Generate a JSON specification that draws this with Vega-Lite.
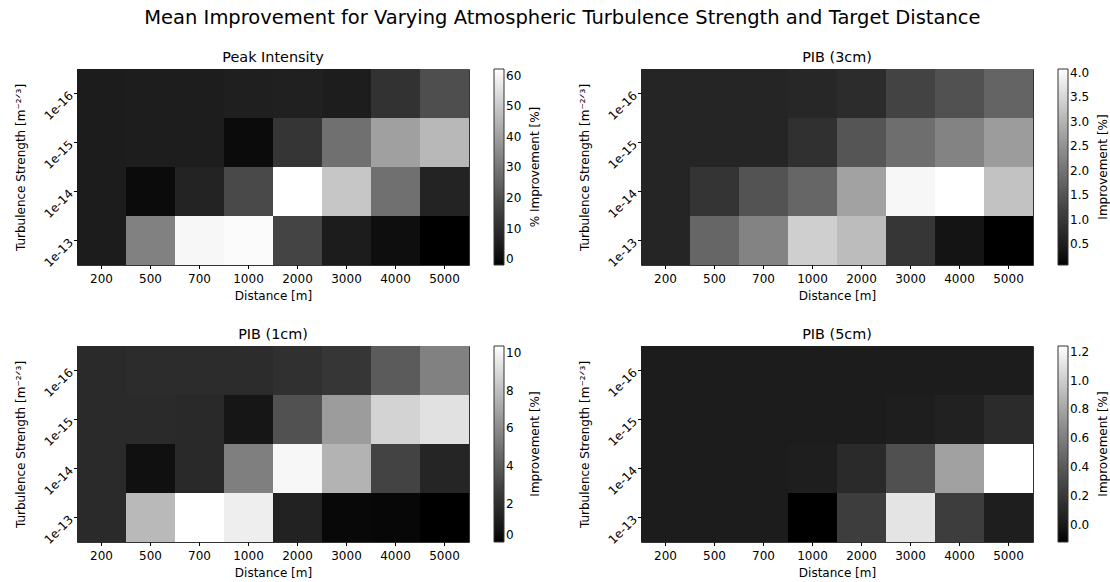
{
  "$schema": "https://vega.github.io/schema/vega-lite/v6.json",
  "padding": {"left": 14, "top": 7, "right": 5, "bottom": 5},
  "background": "white",
  "title": {
    "text": "Mean Improvement for Varying Atmospheric Turbulence Strength and Target Distance",
    "fontSize": 19.5,
    "font": "DejaVu Sans",
    "fontWeight": "normal",
    "color": "#000",
    "anchor": "middle",
    "offset": 21
  },
  "data": {
    "values": [
      {"m": "peak", "cn2": "1e-16", "d": 200, "v": 4.6},
      {"m": "peak", "cn2": "1e-16", "d": 500, "v": 5.1},
      {"m": "peak", "cn2": "1e-16", "d": 700, "v": 5.1},
      {"m": "peak", "cn2": "1e-16", "d": 1000, "v": 5.6},
      {"m": "peak", "cn2": "1e-16", "d": 2000, "v": 5.9},
      {"m": "peak", "cn2": "1e-16", "d": 3000, "v": 5.1},
      {"m": "peak", "cn2": "1e-16", "d": 4000, "v": 11.4},
      {"m": "peak", "cn2": "1e-16", "d": 5000, "v": 19.5},
      {"m": "peak", "cn2": "1e-15", "d": 200, "v": 4.6},
      {"m": "peak", "cn2": "1e-15", "d": 500, "v": 5.1},
      {"m": "peak", "cn2": "1e-15", "d": 700, "v": 5.1},
      {"m": "peak", "cn2": "1e-15", "d": 1000, "v": 0.1},
      {"m": "peak", "cn2": "1e-15", "d": 2000, "v": 12.2},
      {"m": "peak", "cn2": "1e-15", "d": 3000, "v": 28.3},
      {"m": "peak", "cn2": "1e-15", "d": 4000, "v": 40.3},
      {"m": "peak", "cn2": "1e-15", "d": 5000, "v": 46.1},
      {"m": "peak", "cn2": "1e-14", "d": 200, "v": 4.6},
      {"m": "peak", "cn2": "1e-14", "d": 500, "v": 0.1},
      {"m": "peak", "cn2": "1e-14", "d": 700, "v": 6.9},
      {"m": "peak", "cn2": "1e-14", "d": 1000, "v": 18.0},
      {"m": "peak", "cn2": "1e-14", "d": 2000, "v": 62.2},
      {"m": "peak", "cn2": "1e-14", "d": 3000, "v": 49.4},
      {"m": "peak", "cn2": "1e-14", "d": 4000, "v": 28.3},
      {"m": "peak", "cn2": "1e-14", "d": 5000, "v": 6.9},
      {"m": "peak", "cn2": "1e-13", "d": 200, "v": 4.6},
      {"m": "peak", "cn2": "1e-13", "d": 500, "v": 32.8},
      {"m": "peak", "cn2": "1e-13", "d": 700, "v": 60.4},
      {"m": "peak", "cn2": "1e-13", "d": 1000, "v": 61.4},
      {"m": "peak", "cn2": "1e-13", "d": 2000, "v": 16.7},
      {"m": "peak", "cn2": "1e-13", "d": 3000, "v": 4.6},
      {"m": "peak", "cn2": "1e-13", "d": 4000, "v": 0.6},
      {"m": "peak", "cn2": "1e-13", "d": 5000, "v": -1.9},

      {"m": "pib3", "cn2": "1e-16", "d": 200, "v": 0.67},
      {"m": "pib3", "cn2": "1e-16", "d": 500, "v": 0.67},
      {"m": "pib3", "cn2": "1e-16", "d": 700, "v": 0.67},
      {"m": "pib3", "cn2": "1e-16", "d": 1000, "v": 0.70},
      {"m": "pib3", "cn2": "1e-16", "d": 2000, "v": 0.80},
      {"m": "pib3", "cn2": "1e-16", "d": 3000, "v": 1.21},
      {"m": "pib3", "cn2": "1e-16", "d": 4000, "v": 1.46},
      {"m": "pib3", "cn2": "1e-16", "d": 5000, "v": 1.77},
      {"m": "pib3", "cn2": "1e-15", "d": 200, "v": 0.67},
      {"m": "pib3", "cn2": "1e-15", "d": 500, "v": 0.67},
      {"m": "pib3", "cn2": "1e-15", "d": 700, "v": 0.67},
      {"m": "pib3", "cn2": "1e-15", "d": 1000, "v": 0.88},
      {"m": "pib3", "cn2": "1e-15", "d": 2000, "v": 1.52},
      {"m": "pib3", "cn2": "1e-15", "d": 3000, "v": 1.93},
      {"m": "pib3", "cn2": "1e-15", "d": 4000, "v": 2.27},
      {"m": "pib3", "cn2": "1e-15", "d": 5000, "v": 2.65},
      {"m": "pib3", "cn2": "1e-14", "d": 200, "v": 0.67},
      {"m": "pib3", "cn2": "1e-14", "d": 500, "v": 0.95},
      {"m": "pib3", "cn2": "1e-14", "d": 700, "v": 1.49},
      {"m": "pib3", "cn2": "1e-14", "d": 1000, "v": 1.80},
      {"m": "pib3", "cn2": "1e-14", "d": 2000, "v": 2.74},
      {"m": "pib3", "cn2": "1e-14", "d": 3000, "v": 3.97},
      {"m": "pib3", "cn2": "1e-14", "d": 4000, "v": 4.08},
      {"m": "pib3", "cn2": "1e-14", "d": 5000, "v": 3.21},
      {"m": "pib3", "cn2": "1e-13", "d": 200, "v": 0.67},
      {"m": "pib3", "cn2": "1e-13", "d": 500, "v": 1.80},
      {"m": "pib3", "cn2": "1e-13", "d": 700, "v": 2.27},
      {"m": "pib3", "cn2": "1e-13", "d": 1000, "v": 3.40},
      {"m": "pib3", "cn2": "1e-13", "d": 2000, "v": 3.13},
      {"m": "pib3", "cn2": "1e-13", "d": 3000, "v": 0.99},
      {"m": "pib3", "cn2": "1e-13", "d": 4000, "v": 0.33},
      {"m": "pib3", "cn2": "1e-13", "d": 5000, "v": 0.08},

      {"m": "pib1", "cn2": "1e-16", "d": 200, "v": 1.79},
      {"m": "pib1", "cn2": "1e-16", "d": 500, "v": 1.87},
      {"m": "pib1", "cn2": "1e-16", "d": 700, "v": 1.87},
      {"m": "pib1", "cn2": "1e-16", "d": 1000, "v": 1.87},
      {"m": "pib1", "cn2": "1e-16", "d": 2000, "v": 2.07},
      {"m": "pib1", "cn2": "1e-16", "d": 3000, "v": 2.35},
      {"m": "pib1", "cn2": "1e-16", "d": 4000, "v": 3.98},
      {"m": "pib1", "cn2": "1e-16", "d": 5000, "v": 5.60},
      {"m": "pib1", "cn2": "1e-15", "d": 200, "v": 1.79},
      {"m": "pib1", "cn2": "1e-15", "d": 500, "v": 1.79},
      {"m": "pib1", "cn2": "1e-15", "d": 700, "v": 1.70},
      {"m": "pib1", "cn2": "1e-15", "d": 1000, "v": 0.73},
      {"m": "pib1", "cn2": "1e-15", "d": 2000, "v": 3.57},
      {"m": "pib1", "cn2": "1e-15", "d": 3000, "v": 6.66},
      {"m": "pib1", "cn2": "1e-15", "d": 4000, "v": 8.77},
      {"m": "pib1", "cn2": "1e-15", "d": 5000, "v": 9.25},
      {"m": "pib1", "cn2": "1e-14", "d": 200, "v": 1.79},
      {"m": "pib1", "cn2": "1e-14", "d": 500, "v": 0.49},
      {"m": "pib1", "cn2": "1e-14", "d": 700, "v": 1.70},
      {"m": "pib1", "cn2": "1e-14", "d": 1000, "v": 5.52},
      {"m": "pib1", "cn2": "1e-14", "d": 2000, "v": 10.07},
      {"m": "pib1", "cn2": "1e-14", "d": 3000, "v": 7.55},
      {"m": "pib1", "cn2": "1e-14", "d": 4000, "v": 2.92},
      {"m": "pib1", "cn2": "1e-14", "d": 5000, "v": 1.50},
      {"m": "pib1", "cn2": "1e-13", "d": 200, "v": 1.79},
      {"m": "pib1", "cn2": "1e-13", "d": 500, "v": 7.79},
      {"m": "pib1", "cn2": "1e-13", "d": 700, "v": 10.35},
      {"m": "pib1", "cn2": "1e-13", "d": 1000, "v": 9.74},
      {"m": "pib1", "cn2": "1e-13", "d": 2000, "v": 1.38},
      {"m": "pib1", "cn2": "1e-13", "d": 3000, "v": 0.24},
      {"m": "pib1", "cn2": "1e-13", "d": 4000, "v": 0.20},
      {"m": "pib1", "cn2": "1e-13", "d": 5000, "v": 0.0},

      {"m": "pib5", "cn2": "1e-16", "d": 200, "v": 0.02},
      {"m": "pib5", "cn2": "1e-16", "d": 500, "v": 0.02},
      {"m": "pib5", "cn2": "1e-16", "d": 700, "v": 0.02},
      {"m": "pib5", "cn2": "1e-16", "d": 1000, "v": 0.02},
      {"m": "pib5", "cn2": "1e-16", "d": 2000, "v": 0.02},
      {"m": "pib5", "cn2": "1e-16", "d": 3000, "v": 0.02},
      {"m": "pib5", "cn2": "1e-16", "d": 4000, "v": 0.02},
      {"m": "pib5", "cn2": "1e-16", "d": 5000, "v": 0.02},
      {"m": "pib5", "cn2": "1e-15", "d": 200, "v": 0.02},
      {"m": "pib5", "cn2": "1e-15", "d": 500, "v": 0.02},
      {"m": "pib5", "cn2": "1e-15", "d": 700, "v": 0.02},
      {"m": "pib5", "cn2": "1e-15", "d": 1000, "v": 0.02},
      {"m": "pib5", "cn2": "1e-15", "d": 2000, "v": 0.02},
      {"m": "pib5", "cn2": "1e-15", "d": 3000, "v": 0.03},
      {"m": "pib5", "cn2": "1e-15", "d": 4000, "v": 0.05},
      {"m": "pib5", "cn2": "1e-15", "d": 5000, "v": 0.12},
      {"m": "pib5", "cn2": "1e-14", "d": 200, "v": 0.02},
      {"m": "pib5", "cn2": "1e-14", "d": 500, "v": 0.02},
      {"m": "pib5", "cn2": "1e-14", "d": 700, "v": 0.02},
      {"m": "pib5", "cn2": "1e-14", "d": 1000, "v": 0.03},
      {"m": "pib5", "cn2": "1e-14", "d": 2000, "v": 0.11},
      {"m": "pib5", "cn2": "1e-14", "d": 3000, "v": 0.34},
      {"m": "pib5", "cn2": "1e-14", "d": 4000, "v": 0.78},
      {"m": "pib5", "cn2": "1e-14", "d": 5000, "v": 1.24},
      {"m": "pib5", "cn2": "1e-13", "d": 200, "v": 0.02},
      {"m": "pib5", "cn2": "1e-13", "d": 500, "v": 0.02},
      {"m": "pib5", "cn2": "1e-13", "d": 700, "v": 0.02},
      {"m": "pib5", "cn2": "1e-13", "d": 1000, "v": -0.12},
      {"m": "pib5", "cn2": "1e-13", "d": 2000, "v": 0.23},
      {"m": "pib5", "cn2": "1e-13", "d": 3000, "v": 1.11},
      {"m": "pib5", "cn2": "1e-13", "d": 4000, "v": 0.23},
      {"m": "pib5", "cn2": "1e-13", "d": 5000, "v": 0.03}
    ]
  },
  "spacing": 24,
  "resolve": {"scale": {"color": "independent"}, "legend": {"color": "independent"}},
  "vconcat": [
    {
      "spacing": 172,
      "bounds": "flush",
      "resolve": {"scale": {"color": "independent"}, "legend": {"color": "independent"}},
      "hconcat": [
        {
          "width": 392, "height": 196,
          "title": "Peak Intensity",
          "transform": [{"filter": "datum.m === 'peak'"}],
          "mark": {"type": "rect"},
          "encoding": {
            "x": {"field": "d", "type": "ordinal", "title": "Distance [m]", "scale": {"paddingInner": 0, "paddingOuter": 0}},
            "y": {"field": "cn2", "type": "ordinal", "sort": ["1e-16", "1e-15", "1e-14", "1e-13"], "title": "Turbulence Strength [m⁻²ᐟ³]", "scale": {"paddingInner": 0, "paddingOuter": 0}},
            "color": {"field": "v", "type": "quantitative", "scale": {"range": ["#000000", "#ffffff"], "zero": false, "nice": false}, "legend": {"title": "% Improvement [%]", "values": [0, 10, 20, 30, 40, 50, 60], "encode": {"title": {"update": {"angle": {"value": 270}, "baseline": {"value": "top"}}}}}}
          }
        },
        {
          "width": 392, "height": 196,
          "title": "PIB (3cm)",
          "transform": [{"filter": "datum.m === 'pib3'"}],
          "mark": {"type": "rect"},
          "encoding": {
            "x": {"field": "d", "type": "ordinal", "title": "Distance [m]", "scale": {"paddingInner": 0, "paddingOuter": 0}},
            "y": {"field": "cn2", "type": "ordinal", "sort": ["1e-16", "1e-15", "1e-14", "1e-13"], "title": "Turbulence Strength [m⁻²ᐟ³]", "scale": {"paddingInner": 0, "paddingOuter": 0}},
            "color": {"field": "v", "type": "quantitative", "scale": {"range": ["#000000", "#ffffff"], "zero": false, "nice": false}, "legend": {"title": "Improvement [%]", "values": [0.5, 1.0, 1.5, 2.0, 2.5, 3.0, 3.5, 4.0], "format": ".1f", "encode": {"title": {"update": {"angle": {"value": 270}, "baseline": {"value": "top"}}}}}}
          }
        }
      ]
    },
    {
      "spacing": 172,
      "bounds": "flush",
      "resolve": {"scale": {"color": "independent"}, "legend": {"color": "independent"}},
      "hconcat": [
        {
          "width": 392, "height": 196,
          "title": "PIB (1cm)",
          "transform": [{"filter": "datum.m === 'pib1'"}],
          "mark": {"type": "rect"},
          "encoding": {
            "x": {"field": "d", "type": "ordinal", "title": "Distance [m]", "scale": {"paddingInner": 0, "paddingOuter": 0}},
            "y": {"field": "cn2", "type": "ordinal", "sort": ["1e-16", "1e-15", "1e-14", "1e-13"], "title": "Turbulence Strength [m⁻²ᐟ³]", "scale": {"paddingInner": 0, "paddingOuter": 0}},
            "color": {"field": "v", "type": "quantitative", "scale": {"range": ["#000000", "#ffffff"], "zero": false, "nice": false}, "legend": {"title": "Improvement [%]", "values": [0, 2, 4, 6, 8, 10], "encode": {"title": {"update": {"angle": {"value": 270}, "baseline": {"value": "top"}}}}}}
          }
        },
        {
          "width": 392, "height": 196,
          "title": "PIB (5cm)",
          "transform": [{"filter": "datum.m === 'pib5'"}],
          "mark": {"type": "rect"},
          "encoding": {
            "x": {"field": "d", "type": "ordinal", "title": "Distance [m]", "scale": {"paddingInner": 0, "paddingOuter": 0}},
            "y": {"field": "cn2", "type": "ordinal", "sort": ["1e-16", "1e-15", "1e-14", "1e-13"], "title": "Turbulence Strength [m⁻²ᐟ³]", "scale": {"paddingInner": 0, "paddingOuter": 0}},
            "color": {"field": "v", "type": "quantitative", "scale": {"range": ["#000000", "#ffffff"], "zero": false, "nice": false}, "legend": {"title": "Improvement [%]", "values": [0.0, 0.2, 0.4, 0.6, 0.8, 1.0, 1.2], "format": ".1f", "encode": {"title": {"update": {"angle": {"value": 270}, "baseline": {"value": "top"}}}}}}
          }
        }
      ]
    }
  ],
  "config": {
    "font": "DejaVu Sans",
    "view": {"stroke": "#333", "strokeWidth": 1},
    "title": {"fontSize": 14.4, "fontWeight": "normal", "color": "#000", "font": "DejaVu Sans", "offset": 4},
    "axis": {
      "labelFont": "DejaVu Sans", "labelFontSize": 12, "labelColor": "#000",
      "titleFont": "DejaVu Sans", "titleFontSize": 12, "titleFontWeight": "normal", "titleColor": "#000",
      "tickColor": "#000", "tickSize": 3.5, "domain": false, "grid": false, "labelPadding": 3
    },
    "axisX": {"labelAngle": 0, "labelPadding": 5, "titlePadding": 6},
    "axisY": {"labelAngle": -45, "labelAlign": "right", "labelBaseline": "middle", "titlePadding": 14},
    "legend": {
      "orient": "right", "offset": 25, "direction": "vertical",
      "gradientLength": 196, "gradientThickness": 10,
      "gradientStrokeColor": "#333", "gradientStrokeWidth": 1,
      "labelFont": "DejaVu Sans", "labelFontSize": 12, "labelColor": "#000", "labelOffset": 8, "labelOverlap": false,
      "titleFont": "DejaVu Sans", "titleFontSize": 12, "titleFontWeight": "normal", "titleColor": "#000",
      "titleOrient": "right", "titlePadding": 9
    }
  }
}
